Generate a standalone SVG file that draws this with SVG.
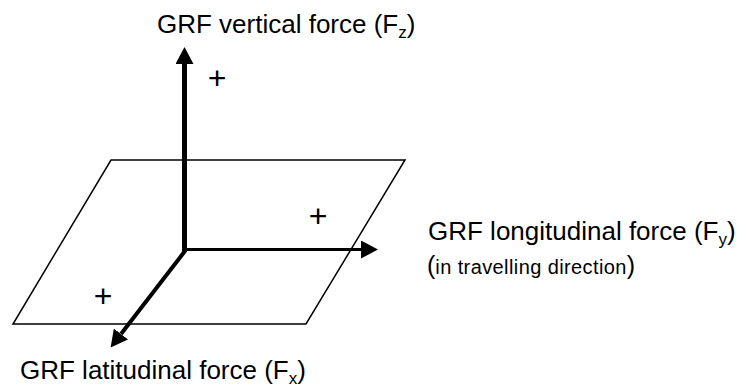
<svg xmlns="http://www.w3.org/2000/svg" width="746" height="387" viewBox="0 0 746 387">
<style>
.lbl{font-family:"Liberation Sans",Arial,sans-serif;font-size:26px;fill:#000}
.sub{font-size:17px}
.small{font-family:"Liberation Sans",Arial,sans-serif;font-size:20px;fill:#000}
.plus{font-family:"Liberation Sans",Arial,sans-serif;font-size:32px;fill:#000;text-anchor:middle}
.axis{stroke:#000;fill:none;stroke-linecap:butt}
</style>
<defs>
<marker id="ah" markerUnits="userSpaceOnUse" markerWidth="17" markerHeight="18" refX="0" refY="9" orient="auto" viewBox="0 0 17 18">
<path d="M0,0 L17,9 L0,18 Z" fill="#000"/>
</marker>
</defs>
<rect width="746" height="387" fill="#fff"/>
<g id="plane">
<polygon points="111,160 405,160 306,324 13,324" fill="none" stroke="#000" stroke-width="1.5"/>
</g>
<g id="connectors">
<line class="axis" x1="184.5" y1="252" x2="184.5" y2="64" stroke-width="5" marker-end="url(#ah)"/>
<line class="axis" x1="183" y1="249.5" x2="361" y2="249.5" stroke-width="3" marker-end="url(#ah)"/>
<line class="axis" x1="185" y1="251" x2="121" y2="334" stroke-width="4" marker-end="url(#ah)"/>
</g>
<g id="label-z">
<text class="lbl" x="157" y="33">GRF vertical force (F<tspan class="sub" dy="5">z</tspan><tspan dy="-5">)</tspan></text>
</g>
<g id="label-y">
<text class="lbl" x="428" y="240">GRF longitudinal force (F<tspan class="sub" dy="5">y</tspan><tspan dy="-5">)</tspan></text>
<text class="small" x="427" y="274"><tspan font-size="25">(</tspan><tspan letter-spacing="0.4">in travelling direction</tspan><tspan font-size="25">)</tspan></text>
</g>
<g id="label-x">
<text class="lbl" x="20" y="379">GRF latitudinal force (F<tspan class="sub" dy="5">x</tspan><tspan dy="-5">)</tspan></text>
</g>
<g id="signs">
<text class="plus" x="217" y="89">+</text>
<text class="plus" x="318" y="227">+</text>
<text class="plus" x="103" y="307">+</text>
</g>
</svg>
